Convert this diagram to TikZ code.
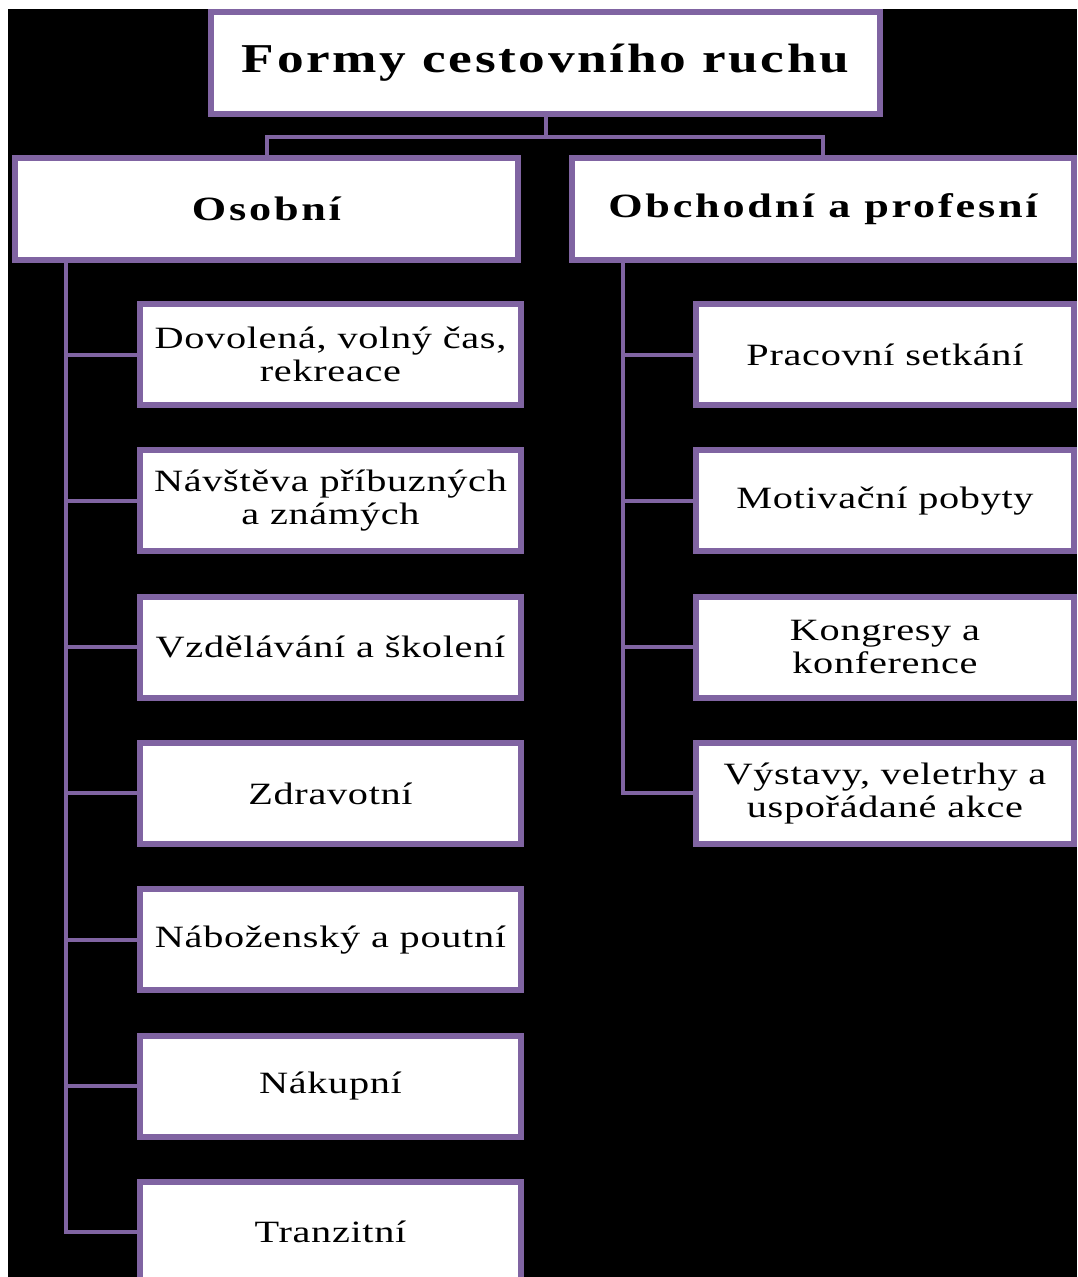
\documentclass[tikz,border=0pt]{standalone}
\usepackage{fontspec}
\setmainfont{Liberation Serif}
\newfontfamily\titlefont{Liberation Serif}[FakeStretch=1.3, LetterSpace=6.5]
\newfontfamily\levelfont{Liberation Serif}[FakeStretch=1.3, LetterSpace=8.2]
\newfontfamily\childfont{Liberation Serif}[FakeStretch=1.3, LetterSpace=2.2]
\definecolor{boxpurple}{HTML}{8064A2}
\tikzset{
  box/.style={draw=boxpurple, line width=6pt, fill=white, inner sep=0pt, align=center, text=black},
  titlebox/.style={box, minimum width=669pt, minimum height=102pt, font=\titlefont\bfseries\fontsize{41}{45}\selectfont},
  levelbox/.style={box, minimum width=503pt, minimum height=102pt, font=\levelfont\bfseries\fontsize{34}{38}\selectfont},
  lchild/.style={box, minimum width=381pt, minimum height=101pt, font=\childfont\fontsize{31}{33}\selectfont},
  rchild/.style={box, minimum width=378pt, minimum height=101pt, font=\childfont\fontsize{31}{33}\selectfont},
  link/.style={draw=boxpurple, line width=4pt},
}
\begin{document}
\begin{tikzpicture}[x=1pt, y=-1pt]
\useasboundingbox (0,0) rectangle (1077,1277);
\clip (0,0) rectangle (1077,1277);
\fill[white] (0,0) rectangle (1077,1277);
\fill[black] (8,9) rectangle (1077,1277);

\node[titlebox] (title) at (545.5,63) {Formy cestovního ruchu};
\node[levelbox] (osob) at (266.5,209) {Osobní};
\node[levelbox, minimum width=502pt] (obch) at (823,209) {Obchodní a profesní};

\draw[link] (title.south) -- ++(0,20) coordinate (j) -| (osob.north);
\draw[link] (j) -| (obch.north);

\node[lchild] (l1) at (330.5,354.5) {Dovolená, volný čas,\\rekreace};
\node[lchild] (l2) at (330.5,500.8) {Návštěva příbuzných\\a známých};
\node[lchild] (l3) at (330.5,647.1) {Vzdělávání a školení};
\node[lchild] (l4) at (330.5,793.4) {Zdravotní};
\node[lchild] (l5) at (330.5,939.7) {Náboženský a poutní};
\node[lchild] (l6) at (330.5,1086) {Nákupní};
\node[lchild] (l7) at (330.5,1232.3) {Tranzitní};

\node[rchild] (r1) at (885,354.5) {Pracovní setkání};
\node[rchild] (r2) at (885,500.8) {Motivační pobyty};
\node[rchild] (r3) at (885,647.1) {Kongresy a\\konference};
\node[rchild] (r4) at (885,793.4) {Výstavy, veletrhy a\\uspořádané akce};

\foreach \n in {l1,l2,l3,l4,l5,l6,l7}
  \draw[link] ([xshift=54pt]osob.south west) |- (\n.west);
\foreach \n in {r1,r2,r3,r4}
  \draw[link] ([xshift=54pt]obch.south west) |- (\n.west);
\end{tikzpicture}
\end{document}
